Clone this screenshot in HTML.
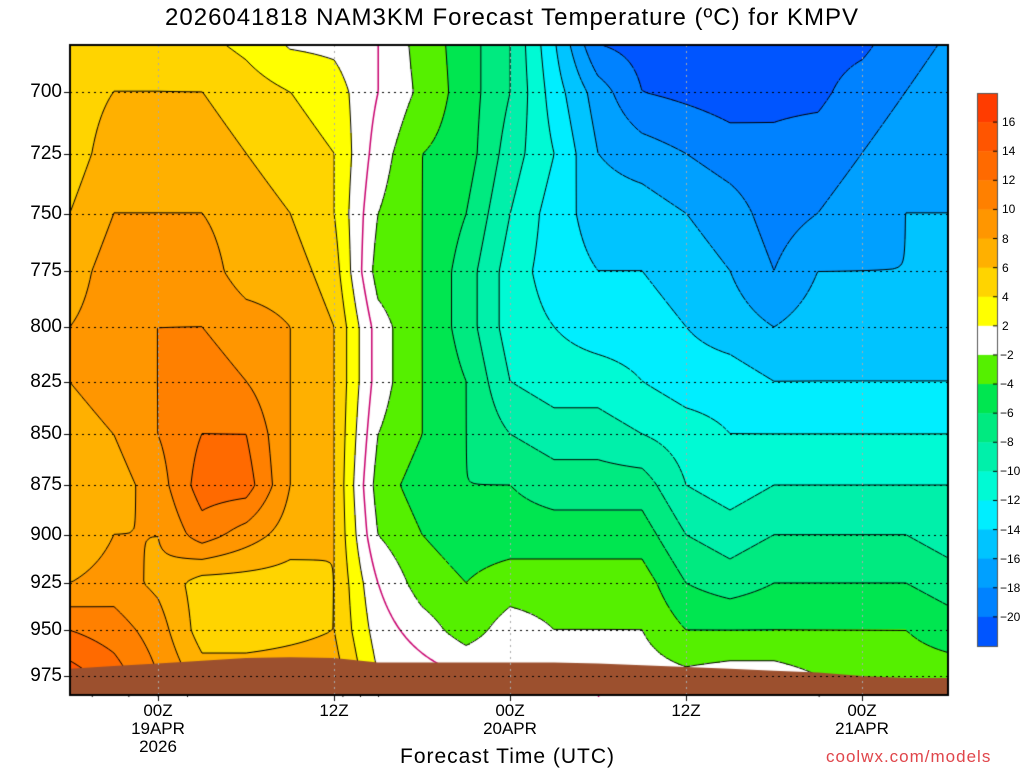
<!DOCTYPE html>
<html><head><meta charset="utf-8"><style>
body{margin:0;background:#fff;width:1024px;height:768px;overflow:hidden;position:relative;font-family:"Liberation Sans",sans-serif}
.t{position:absolute;white-space:nowrap;color:#000}
canvas{position:absolute;left:0;top:0}
</style></head><body>
<canvas id="c" width="1024" height="768"></canvas>
<div class="t" style="left:0;width:1024px;text-align:center;top:4px;font-size:24px;letter-spacing:1px">2026041818 NAM3KM Forecast Temperature (ºC) for KMPV</div>
<div class="t" style="left:400px;top:745px;font-size:21px;letter-spacing:1px">Forecast Time (UTC)</div>
<div class="t" style="left:826px;top:747px;font-size:17px;color:#e0464b;letter-spacing:1px">coolwx.com/models</div>
<div id="lab"></div>
<script>
const times=[0,3,6,9,12,15,18,21,24,27,30,33,36,39,42,45,48,51,54,57,60];
const levels=[675,700,725,750,775,800,825,850,875,900,925,950,975];
const temps=[
[5,5,5,6,7,8,8,7,7,6,8,12,15],
[5,6,7,8,9,9,9,8,7,8,9,11,13],
[5,6,7,8,9,10,10,10,9,8,7.5,9,10],
[4,6,7,8,9,10,11,12,13,11,5,5,7],
[3,5,6,7,7,9,10,12,13,9,5,5,7],
[1,4,5,6,7,8,8,8,8,7,5,5.5,7],
[1,3,4,4,5,6,6,6,6,6,6,6,7],
[0,0,-1,-2,-3,-1,-1,-2,-3,-2,0,1,2],
[-3,-2.5,-4,-4,-4,-4,-4,-4,-5,-4,-3,-1,1],
[-5,-5,-5,-6,-7,-7,-6,-6,-6,-5,-4,-3,0],
[-8,-8,-9,-10,-11,-11,-10,-8,-6,-5,-3,-1,0],
[-14,-13,-12,-13,-13,-12,-11,-9,-7,-5,-3,-2,0],
[-21,-17,-16,-15,-14,-13,-11,-9,-7,-5,-3,-2,0],
[-21,-20,-17,-15,-14,-13,-12,-10,-7,-5,-3,-2,-1],
[-21,-20.5,-18,-16,-15,-14,-13,-11,-10,-8,-6,-4,-1.5],
[-21,-21,-19,-17,-16,-15,-13,-12,-11,-9,-7,-4,-1],
[-21,-20.5,-19.5,-19,-18,-16,-14,-12,-10,-8,-6,-4,-1],
[-21,-20.5,-19,-18,-16,-15,-14,-12,-10,-8,-6,-4,-2],
[-21,-19,-18,-17,-16,-15,-14,-12,-10,-8,-6,-4,-2.5],
[-19,-18,-17,-16,-16,-15,-14,-12,-10,-8,-6,-4,-3],
[-18,-17,-17,-16,-16,-15,-14,-12,-10,-9,-7,-5,-3]];
const groundP=[971,969.5,968,966.5,965,964.6,965,967.5,967.5,967.5,967.5,967.5,968,969,970,971,972,973,975,976,976];
const pTicks=[700,725,750,775,800,825,850,875,900,925,950,975];
const tTicks=[6,18,30,42,54];
const tLabels=[["00Z","19APR","2026"],["12Z"],["00Z","20APR"],["12Z"],["00Z","21APR"]];
const cbLabels=[16,14,12,10,8,6,4,2,-2,-4,-6,-8,-10,-12,-14,-16,-18,-20];
const cbColors=["#ff3c00","#ff5500","#ff6a00","#ff8000","#ff9600","#ffb000","#ffd400","#ffff00","#ffffff","#55f000","#00e650","#00ea80","#00f0aa","#00fad4","#00eeff","#00c4ff","#00a0ff","#0082ff","#0055ff"];

const L=70,R=948,T=45,B=695;
const KY=1762.7;
const xOf=t=>70+t*176/12, tOf=x=>(x-70)*12/176;
const yOf=p=>92+(Math.log(p)-Math.log(700))*KY, pOf=y=>700*Math.exp((y-92)/KY);
function val(t,p){
  let i=Math.max(0,Math.min(times.length-2,Math.floor((t-times[0])/3)));
  let fx=Math.max(0,Math.min(1,(t-times[i])/(times[i+1]-times[i])));
  let j=Math.max(0,Math.min(levels.length-2,Math.floor((p-levels[0])/25)));
  let fy=Math.max(0,Math.min(1,(p-levels[j])/(levels[j+1]-levels[j])));
  const a=temps[i][j],b=temps[i+1][j],c=temps[i][j+1],d=temps[i+1][j+1];
  return a*(1-fx)*(1-fy)+b*fx*(1-fy)+c*(1-fx)*fy+d*fx*fy+0.013;
}
function col(v){
  if(v>=16)return cbColors[0];
  if(v>=2)return cbColors[1+Math.floor((16-v)/2)];
  if(v>-2)return cbColors[8];
  if(v<=-20)return cbColors[18];
  return cbColors[9+Math.floor((-2-v)/2)];
}
const cv=document.getElementById('c'),g=cv.getContext('2d');
const S=2;
for(let x=L;x<R;x+=S)for(let y=T;y<B;y+=S){g.fillStyle=col(val(tOf(x+1),pOf(y+1)));g.fillRect(x,y,S,S);}
const G=4,nx=Math.ceil((R-L)/G)+1,ny=Math.ceil((B-T)/G)+1,F=[];
for(let i=0;i<nx;i++){F.push([]);for(let j=0;j<ny;j++)F[i].push(val(tOf(L+i*G),pOf(T+j*G)));}
for(let lv=-20;lv<=16;lv+=2){
  g.beginPath();
  g.strokeStyle=lv===0?"#c8006e":"#000";g.lineWidth=lv===0?1.5:1;
  g.setLineDash(lv<0?[4,3]:[]);
  for(let i=0;i<nx-1;i++)for(let j=0;j<ny-1;j++){
    const c=[[i,j],[i+1,j],[i+1,j+1],[i,j+1]],pts=[];
    for(let k=0;k<4;k++){const a=c[k],b=c[(k+1)%4],va=F[a[0]][a[1]],vb=F[b[0]][b[1]];
      if((va<lv)!==(vb<lv)){const f=(lv-va)/(vb-va);pts.push([L+(a[0]+(b[0]-a[0])*f)*G,T+(a[1]+(b[1]-a[1])*f)*G]);}}
    for(let k=0;k+1<pts.length;k+=2){g.moveTo(pts[k][0],pts[k][1]);g.lineTo(pts[k+1][0],pts[k+1][1]);}
  }
  g.stroke();
}
g.setLineDash([]);
g.fillStyle="#9c502e";g.beginPath();g.moveTo(L,B);
times.forEach((t,i)=>g.lineTo(xOf(t),yOf(groundP[i])));g.lineTo(R,B);g.closePath();g.fill();
g.fillStyle="#fff";g.fillRect(R+1,T,60,B-T);
g.setLineDash([2,4]);g.lineWidth=1;
g.strokeStyle="#000";pTicks.forEach(p=>{g.beginPath();g.moveTo(L,Math.round(yOf(p))+.5);g.lineTo(R,Math.round(yOf(p))+.5);g.stroke();});
g.strokeStyle="#aaa";tTicks.forEach(t=>{g.beginPath();g.moveTo(xOf(t)+.5,T);g.lineTo(xOf(t)+.5,B);g.stroke();});
g.setLineDash([]);
g.strokeStyle="#000";g.lineWidth=2;g.strokeRect(L,T,R-L,B-T);
g.lineWidth=1;
pTicks.forEach(p=>{g.beginPath();g.moveTo(L-6,Math.round(yOf(p))+.5);g.lineTo(L,Math.round(yOf(p))+.5);g.stroke();});
tTicks.forEach(t=>{g.beginPath();g.moveTo(xOf(t)+.5,B);g.lineTo(xOf(t)+.5,B+6);g.stroke();});
const cbT=93,cbH=553/19;
cbColors.forEach((c,i)=>{g.fillStyle=c;g.fillRect(977,cbT+i*cbH,20,cbH+0.5);});
g.strokeStyle="#555";g.strokeRect(977.5,cbT+.5,20,553);
const lab=document.getElementById('lab');
function txt(s,x,y,size,name,align){const d=document.createElement('div');d.className='t';d.textContent=s;
 d.style.fontSize=size+'px';d.style.top=y+'px';
 if(align==='r'){d.style.right=(1024-x)+'px';}else if(align==='c'){d.style.left=(x-60)+'px';d.style.width='120px';d.style.textAlign='center';}else d.style.left=x+'px';
 
 
 lab.appendChild(d);}
pTicks.forEach(p=>txt(String(p),62,yOf(p)-11,19,'y-tick-label','r'));
tTicks.forEach((t,i)=>tLabels[i].forEach((s,k)=>txt(s,xOf(t),701+k*18,17,'x-tick-label','c')));
g.strokeStyle="#000";
cbLabels.forEach((v,i)=>{g.beginPath();g.moveTo(993,cbT+(i+1)*cbH);g.lineTo(997,cbT+(i+1)*cbH);g.stroke();
 txt(v<0?"−"+(-v):String(v),v<0?1000:1002,cbT+(i+1)*cbH-7,12,'colorbar-label','l');});
</script>
</body></html>
